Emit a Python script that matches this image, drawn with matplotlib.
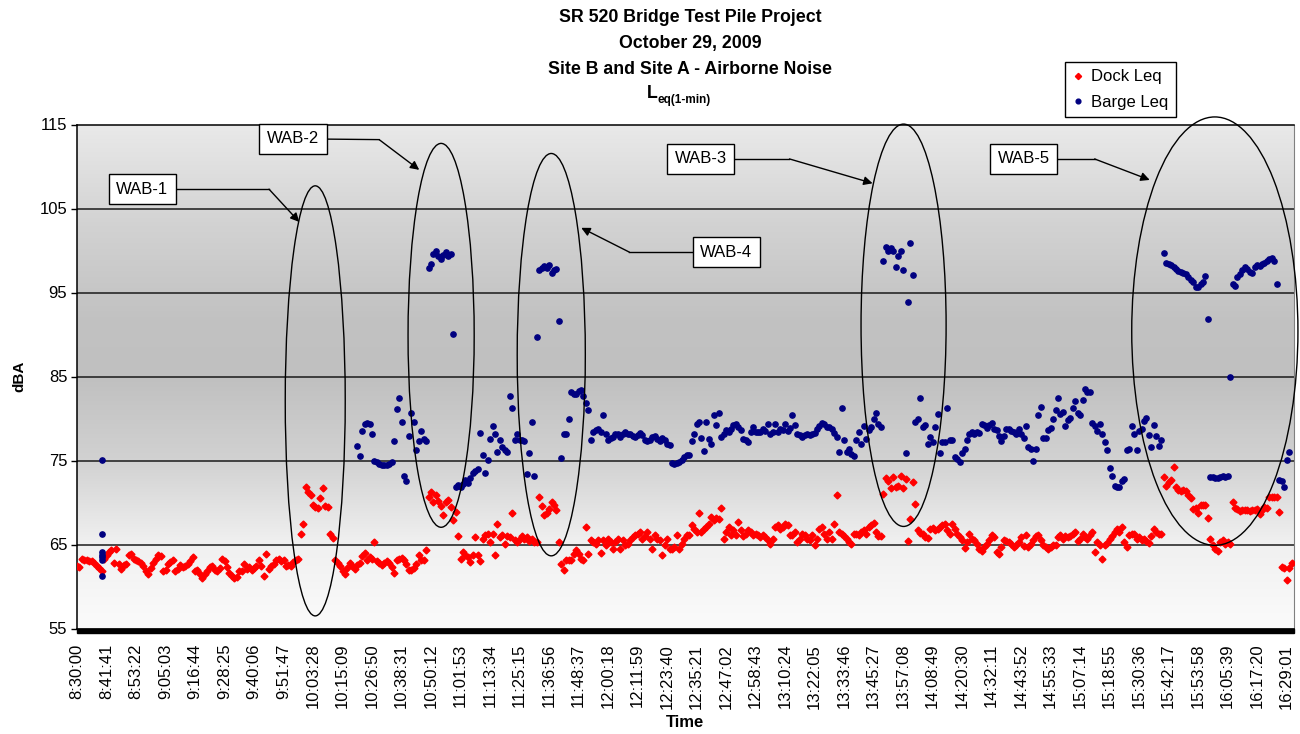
import numpy as np
import matplotlib
matplotlib.use("Agg")
import matplotlib.pyplot as plt
from matplotlib.patches import Ellipse, Rectangle
from matplotlib.colors import LinearSegmentedColormap

plt.rcParams['font.family'] = ['Liberation Sans', 'DejaVu Sans']

# Leq(1-min) values, one row per x tick interval (12 readings)
dock_leq = [
    62.4, 62.3, 63.3, 63.2, 63.1, 63.0, 63.0, 62.8, 62.5, 62.2, 61.9, 63.3,
    63.8, 64.1, 64.3, 62.8, 64.5, 62.7, 62.1, 62.6, 62.7, 63.7, 63.9, 63.3,
    63.1, 63.0, 62.8, 62.4, 61.9, 61.5, 62.2, 62.8, 63.3, 63.7, 63.6, 61.9,
    62.0, 62.7, 62.9, 63.1, 61.9, 62.1, 62.6, 62.3, 62.5, 62.7, 63.0, 63.5,
    61.9, 62.0, 61.5, 61.0, 61.5, 61.9, 62.3, 62.5, 62.0, 61.8, 62.2, 63.3,
    63.0, 62.3, 61.6, 61.3, 61.0, 61.1, 61.8, 61.8, 62.7, 62.1, 62.3, 62.0,
    62.2, 62.4, 63.1, 62.5, 61.2, 63.9, 62.1, 62.4, 62.7, 63.1, 63.3, 63.0,
    63.1, 62.5, 62.6, 62.4, 62.9, 63.1, 63.3, 66.3, 67.5, 71.8, 71.3, 70.9,
    69.7, 69.5, 69.3, 70.5, 71.7, 69.6, 69.5, 66.2, 65.8, 63.1, 62.8, 62.5,
    61.8, 61.5, 62.2, 62.8, 62.5, 62.1, 62.6, 62.8, 63.6, 64.0, 63.1, 63.5,
    63.3, 65.3, 63.0, 62.8, 62.6, 62.8, 63.0, 62.8, 62.3, 61.6, 63.1, 63.3,
    63.4, 63.1, 62.7, 62.0, 62.0, 62.2, 62.7, 63.7, 63.1, 63.1, 64.4, 70.7,
    71.3, 70.1, 70.9, 70.2, 69.6, 68.5, 70.1, 70.3, 69.5, 67.9, 68.9, 66.0,
    63.3, 64.1, 63.7, 63.5, 62.9, 63.7, 65.9, 63.8, 63.0, 65.7, 66.1, 66.3,
    65.3, 66.2, 63.7, 67.5, 65.9, 66.1, 65.1, 66.0, 65.9, 68.7, 65.5, 65.3,
    65.7, 66.0, 65.7, 65.9, 65.4, 65.6, 65.3, 65.3, 70.7, 69.6, 68.5, 68.7,
    69.2, 70.1, 69.7, 69.1, 65.3, 62.7, 62.0, 63.1, 63.1, 63.2, 63.9, 64.3,
    63.9, 63.3, 63.1, 67.1, 63.9, 65.5, 65.3, 65.1, 65.5, 64.0, 65.5, 64.9,
    65.7, 65.3, 64.5, 65.3, 65.7, 64.5, 65.5, 64.9, 65.1, 65.5, 65.9, 66.1,
    66.3, 66.5, 65.7, 66.0, 66.5, 65.7, 64.5, 66.1, 65.7, 65.5, 63.7, 64.9,
    65.7, 64.5, 64.5, 64.7, 66.1, 64.5, 65.1, 65.7, 66.1, 66.1, 67.3, 66.9,
    66.5, 68.7, 66.5, 66.9, 67.1, 67.5, 68.3, 67.9, 68.1, 68.0, 69.3, 65.7,
    66.5, 67.1, 66.1, 66.7, 66.1, 67.7, 66.7, 66.0, 66.3, 66.7, 66.5, 66.1,
    66.3, 66.1, 65.9, 66.1, 65.9, 65.5, 65.1, 65.7, 67.1, 67.3, 66.9, 67.1,
    67.5, 67.3, 66.1, 66.1, 66.5, 65.3, 65.7, 66.3, 66.1, 65.7, 65.5, 66.1,
    64.9, 65.7, 66.9, 67.1, 66.3, 65.7, 66.5, 65.7, 67.5, 70.9, 66.5, 66.3,
    66.0, 65.6, 65.3, 65.1, 66.3, 66.2, 66.1, 66.5, 66.7, 66.2, 67.1, 67.3,
    67.6, 66.5, 66.0, 66.0, 71.0, 72.9, 72.6, 71.7, 73.0, 71.8, 72.0, 73.1,
    71.7, 72.8, 65.4, 68.0, 72.5, 69.8, 66.7, 66.4, 66.2, 65.9, 65.8, 66.9,
    67.0, 66.7, 66.9, 67.1, 67.3, 67.5, 66.7, 66.3, 67.5, 66.9, 66.3, 65.9,
    65.5, 64.6, 65.3, 66.3, 65.7, 65.5, 65.1, 64.5, 64.2, 64.7, 65.1, 65.5,
    66.1, 65.9, 64.1, 63.9, 64.7, 65.5, 65.4, 65.3, 65.1, 64.7, 65.0, 65.3,
    65.9, 64.8, 66.1, 64.7, 65.1, 65.5, 66.0, 66.1, 65.5, 64.9, 64.7, 64.5,
    64.7, 64.9, 65.0, 65.9, 66.1, 65.7, 66.0, 65.9, 66.0, 66.2, 66.5, 65.4,
    65.7, 66.2, 65.9, 65.6, 66.1, 66.5, 64.1, 65.3, 64.9, 63.3, 65.0, 65.2,
    65.7, 66.0, 66.5, 66.9, 66.5, 67.1, 65.3, 64.7, 66.1, 66.3, 66.2, 65.7,
    65.9, 65.5, 65.7, 65.4, 65.2, 66.0, 66.9, 66.5, 66.3, 66.2, 73.0, 72.0,
    72.5, 72.7, 74.2, 71.8, 71.5, 71.4, 71.5, 71.4, 70.9, 70.5, 69.2, 69.3,
    68.7, 69.7, 69.7, 69.7, 68.2, 65.6, 65.0, 64.5, 64.2, 65.3, 65.5, 65.1,
    65.3, 65.1, 70.1, 69.3, 69.2, 69.0, 69.1, 69.1, 69.1, 69.0, 69.1, 69.1,
    69.2, 68.6, 69.1, 69.5, 69.4, 70.7, 70.7, 70.7, 70.7, 68.9, 62.3, 62.2,
    60.8, 62.2, 62.8,
]

# barge meter: a short check at reading 10, then continuous from reading 114
barge_check_at = 10
barge_check = [75.1, 66.2, 64.1, 63.7, 63.5, 63.1, 61.3]
barge_start = 114
barge_leq = [
    76.7, 75.5, 78.5, 79.4, 79.5, 79.3,
    78.1, 75.0, 74.8, 74.6, 74.5, 74.5, 74.5, 74.6, 74.8, 77.3, 81.1, 82.5,
    79.6, 73.2, 72.6, 77.9, 80.7, 79.6, 76.3, 77.3, 78.5, 77.6, 77.3, 97.9,
    98.4, 99.6, 99.9, 99.4, 99.0, 99.5, 99.8, 99.4, 99.6, 90.1, 71.9, 72.1,
    71.8, 72.2, 72.7, 72.3, 72.9, 73.5, 73.8, 74.0, 78.3, 75.7, 73.5, 75.1,
    77.6, 79.1, 78.1, 76.0, 77.5, 76.6, 76.2, 76.0, 82.7, 81.2, 77.5, 78.1,
    77.5, 77.4, 77.3, 73.4, 75.9, 79.6, 73.2, 89.7, 97.7, 97.9, 98.1, 97.9,
    98.3, 97.3, 97.7, 97.8, 91.6, 75.3, 78.2, 78.1, 80.0, 83.1, 82.9, 82.9,
    83.3, 83.4, 82.7, 81.8, 81.0, 77.5, 78.4, 78.6, 78.7, 78.4, 80.4, 78.1,
    77.5, 77.7, 77.8, 78.1, 78.2, 77.8, 78.2, 78.4, 78.2, 78.1, 77.9, 77.8,
    78.0, 78.3, 78.0, 77.5, 77.3, 77.5, 77.8, 77.9, 77.6, 77.3, 77.7, 77.5,
    77.0, 76.8, 74.7, 74.6, 74.7, 74.8, 75.1, 75.4, 75.6, 75.6, 77.3, 78.2,
    79.4, 79.6, 77.7, 76.1, 79.6, 77.6, 77.0, 80.4, 79.2, 80.7, 77.8, 78.2,
    78.6, 78.4, 78.8, 79.2, 79.3, 79.0, 78.6, 77.6, 77.4, 77.2, 78.4, 79.0,
    78.4, 78.4, 78.4, 78.7, 78.5, 79.4, 78.2, 78.4, 79.4, 78.4, 78.8, 78.6,
    79.4, 78.5, 78.9, 80.4, 79.2, 78.2, 78.0, 77.8, 78.0, 78.1, 78.0, 78.2,
    78.3, 78.8, 79.1, 79.5, 79.4, 79.0, 79.0, 78.8, 78.3, 77.8, 76.0, 81.2,
    77.5, 76.0, 76.4, 75.8, 75.5, 77.5, 78.4, 77.0, 79.1, 77.6, 78.6, 79.0,
    80.0, 80.6, 79.4, 79.0, 98.8, 100.4, 99.9, 100.3, 99.9, 98.0, 99.4, 99.9,
    97.7, 75.9, 93.9, 100.9, 97.1, 79.6, 80.0, 82.5, 79.0, 79.2, 77.0, 77.8,
    77.2, 79.0, 80.5, 75.9, 77.2, 77.2, 81.2, 77.5, 77.5, 75.4, 75.2, 74.8,
    75.9, 76.4, 77.4, 78.2, 78.4, 78.2, 78.4, 78.3, 79.3, 79.2, 78.9, 79.2,
    79.5, 78.8, 78.6, 77.9, 77.3, 77.9, 78.7, 78.8, 78.5, 78.4, 78.2, 78.7,
    78.1, 77.7, 79.1, 76.6, 76.4, 75.0, 76.4, 80.4, 81.4, 77.7, 77.7, 78.6,
    78.9, 80.0, 81.0, 82.5, 80.5, 80.8, 79.1, 79.8, 80.1, 81.2, 82.1, 80.7,
    80.4, 82.2, 83.5, 83.2, 83.1, 79.5, 79.1, 78.5, 79.4, 78.2, 77.2, 76.3,
    74.1, 73.2, 72.0, 71.9, 71.8, 72.6, 72.8, 76.2, 76.4, 79.1, 78.2, 76.3,
    78.5, 78.7, 79.7, 80.1, 78.0, 76.6, 79.2, 77.9, 76.7, 77.5, 99.7, 98.5,
    98.4, 98.3, 98.0, 97.8, 97.6, 97.4, 97.3, 97.2, 96.9, 96.5, 96.2, 95.7,
    95.6, 96.0, 96.2, 97.0, 91.8, 73.0, 73.0, 72.9, 72.9, 73.0, 73.1, 73.0,
    73.2, 85.0, 96.0, 95.8, 96.8, 97.2, 97.7, 98.0, 97.8, 97.4, 97.3, 98.0,
    98.3, 98.1, 98.4, 98.5, 98.7, 99.0, 99.1, 98.8, 96.0, 72.7, 72.6, 71.9,
    75.1, 76.0,
]

time_labels = [
    "8:30:00", "8:41:41", "8:53:22", "9:05:03", "9:16:44", "9:28:25", "9:40:06",
    "9:51:47", "10:03:28", "10:15:09", "10:26:50", "10:38:31", "10:50:12",
    "11:01:53", "11:13:34", "11:25:15", "11:36:56", "11:48:37", "12:00:18",
    "12:11:59", "12:23:40", "12:35:21", "12:47:02", "12:58:43", "13:10:24",
    "13:22:05", "13:33:46", "13:45:27", "13:57:08", "14:08:49", "14:20:30",
    "14:32:11", "14:43:52", "14:55:33", "15:07:14", "15:18:55", "15:30:36",
    "15:42:17", "15:53:58", "16:05:39", "16:17:20", "16:29:01",
]
label_step = 12

# callouts: name, box centre, elbow, arrow tip, ellipse centre / width / height (reading, dBA)
callouts = [
    ("WAB-1", (26.5, 107.3), (78.1, 107.3), (90.4, 103.4), (96.9, 82.1), 24.4, 51.2),
    ("WAB-2", (87.9, 113.3), (122.9, 113.2), (139.2, 109.6), (148.1, 89.9), 26.9, 45.7),
    ("WAB-4", (264.1, 99.8), (224.7, 99.8), (205.1, 102.7), (192.9, 87.6), 27.7, 47.9),
    ("WAB-3", (253.6, 110.9), (289.8, 110.9), (323.6, 108.0), (336.2, 91.1), 34.6, 47.9),
    ("WAB-5", (385.0, 110.9), (413.9, 110.9), (436.3, 108.4), (462.8, 90.4), 67.6, 51.0),
]

fig = plt.figure(figsize=(13, 7.34), dpi=100)
ax = fig.add_axes([77 / 1300, 1 - 628.5 / 734, 1217 / 1300, 504 / 734])

# grey band background
bg = LinearSegmentedColormap.from_list("bg", [
    (0.0, "#fbfbfb"), (0.17, "#f0f0f0"), (0.33, "#d2d2d2"),
    (0.5, "#c0c0c0"), (0.62, "#c2c2c2"), (0.8, "#d2d2d2"), (1.0, "#e9e9e9")])
ax.imshow(np.linspace(1, 0, 256).reshape(-1, 1), cmap=bg, aspect="auto",
          extent=[0, 1, 0, 1], transform=ax.transAxes, zorder=0, vmin=0, vmax=1)

for v in range(65, 115, 10):
    ax.axhline(v, color="#1a1a1a", lw=1.1, zorder=1)

xd = np.arange(len(dock_leq))
xb = barge_start + np.arange(len(barge_leq))
ax.plot(xd, dock_leq, ls="none", marker="D", ms=3.5, color="red", zorder=3,
        label="Dock Leq")
ax.plot(xb, barge_leq, ls="none", marker="o", ms=3.8, color="#000080", zorder=3,
        label="Barge Leq")
ax.plot([barge_check_at] * len(barge_check), barge_check, ls="none", marker="o",
        ms=3.8, color="#000080", zorder=3)

for name, box, elbow, tip, ec, ew, eh in callouts:
    ax.add_patch(Ellipse(ec, ew, eh, fill=False, ec="black", lw=1.0,
                         clip_on=False, zorder=4))
    ax.plot([box[0], elbow[0]], [box[1], elbow[1]], color="black", lw=1.0,
            clip_on=False, zorder=4)
    ax.annotate("", xy=tip, xytext=elbow, annotation_clip=False,
                arrowprops=dict(arrowstyle="-|>", color="black", lw=1.0,
                                mutation_scale=13, shrinkA=0, shrinkB=0),
                zorder=4)
    ax.text(box[0], box[1], name, ha="center", va="center", fontsize=12,
            zorder=5, bbox=dict(boxstyle="square,pad=0.45", fc="white",
                                ec="black", lw=1.0))

ax.set_xlim(0, 495)
ax.set_ylim(55, 115)
ax.set_yticks(range(55, 116, 10))
ax.set_xticks(np.arange(len(time_labels)) * label_step)
ax.set_xticklabels(time_labels, rotation=90, fontsize=12)
ax.tick_params(axis="x", length=0, pad=11)
ax.tick_params(axis="y", length=4, width=1, labelsize=12, pad=3)

# the dense category tick marks read as a solid black band under the axis
ax.add_patch(Rectangle((0, -0.0099), 1, 0.0099, transform=ax.transAxes,
                       color="black", clip_on=False, zorder=5))

for s in ("left", "top"):
    ax.spines[s].set_color("black")
    ax.spines[s].set_linewidth(1.1)
ax.spines["right"].set_color("#808080")
ax.spines["bottom"].set_color("black")
ax.spines["bottom"].set_linewidth(1.2)

ax.set_ylabel("dBA", fontsize=11, fontweight="bold")
ax.yaxis.set_label_coords(-0.042, 0.5)
ax.set_xlabel("Time", fontsize=12, fontweight="bold")
ax.xaxis.set_label_coords(0.5, -0.172)

title_lines = ["SR 520 Bridge Test Pile Project", "October 29, 2009",
               "Site B and Site A - Airborne Noise"]
for k, line in enumerate(title_lines):
    fig.text(690 / 1300, 1 - (18 + 25.5 * k) / 734, line, ha="center", va="center",
             fontsize=12.8, fontweight="bold")
fig.text(658 / 1300, 1 - 94 / 734, "L", ha="right", va="center",
         fontsize=12.8, fontweight="bold")
fig.text(658 / 1300, 1 - 100 / 734, "eq(1-min)", ha="left", va="center",
         fontsize=8.5, fontweight="bold")

leg = fig.legend(loc="upper left", bbox_to_anchor=(1065 / 1300, 1 - 62 / 734),
                 borderaxespad=0, fontsize=12, frameon=True, fancybox=False,
                 framealpha=1, edgecolor="black", handlelength=0.7,
                 handletextpad=0.4, borderpad=0.45, labelspacing=0.6,
                 markerscale=0.9)
leg.get_frame().set_linewidth(1.0)

fig.savefig("out.png", dpi=100)
